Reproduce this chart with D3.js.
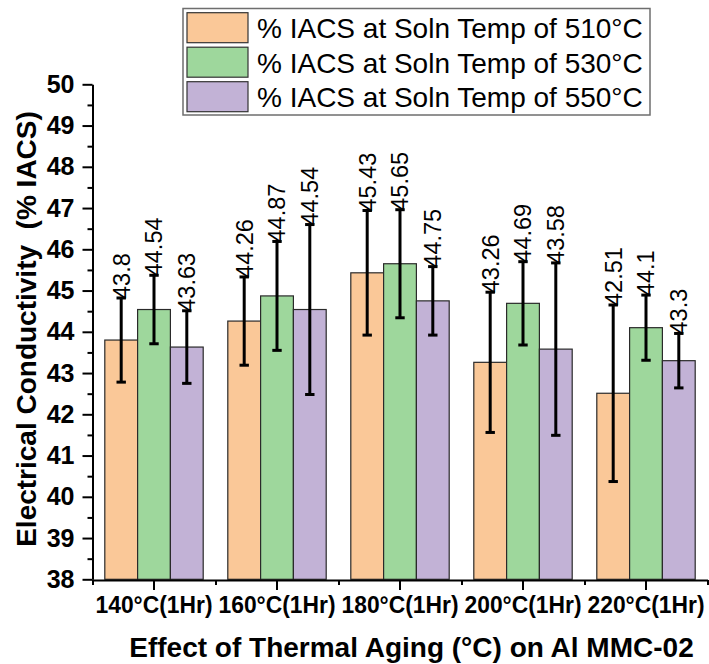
<!DOCTYPE html>
<html>
<head>
<meta charset="utf-8">
<script src="https://cdn.jsdelivr.net/npm/d3@7"></script>
<style>
  html, body { margin: 0; padding: 0; background: #fff; }
  svg { display: block; font-family: "Liberation Sans", Arial, sans-serif; }
</style>
</head>
<body>
<svg id="chart" width="709" height="664"></svg>
<script>
// Aging treatments (x categories)
const categories = ["140°C(1Hr)", "160°C(1Hr)", "180°C(1Hr)", "200°C(1Hr)", "220°C(1Hr)"];
// Solution treatment temperatures (series)
const seriesNames = [
  "% IACS at Soln Temp of 510°C",
  "% IACS at Soln Temp of 530°C",
  "% IACS at Soln Temp of 550°C"
];
// Mean conductivity (% IACS) per series
const values510 = [43.8, 44.26, 45.43, 43.26, 42.51];
const values530 = [44.54, 44.87, 45.65, 44.69, 44.1];
const values550 = [43.63, 44.54, 44.75, 43.58, 43.3];
// Standard deviation per series
const errors510 = [1.02, 1.07, 1.51, 1.7, 2.14];
const errors530 = [0.83, 1.32, 1.31, 1.01, 0.79];
const errors550 = [0.88, 2.06, 0.83, 2.09, 0.66];
// Y axis ticks
const yTicks = [38, 39, 40, 41, 42, 43, 44, 45, 46, 47, 48, 49, 50];
const colors = ["#FAC898", "#9ED79C", "#C2B2D6"];

const seriesValues = [values510, values530, values550];
const seriesErrors = [errors510, errors530, errors550];

const svg = d3.select("#chart");
const FONT = "'Liberation Sans', Arial, sans-serif";

const plotLeft = 92.5, plotRight = 707.5, plotTop = 84.3, plotBottom = 579.3;

const y = d3.scaleLinear().domain([38, 50]).range([plotBottom, plotTop]);
const xGroup = d3.scaleBand().domain(categories).range([plotLeft, plotRight])
  .paddingInner(0.2).paddingOuter(0.1);
const xSub = d3.scaleBand().domain(d3.range(seriesNames.length))
  .range([0, xGroup.bandwidth()]);

// One record per bar
const rows = [];
categories.forEach((c, i) => {
  seriesNames.forEach((s, j) => {
    rows.push({ c, j, v: seriesValues[j][i], e: seriesErrors[j][i] });
  });
});

// Bars
const g = svg.append("g");
g.selectAll("rect.bar").data(rows).join("rect")
  .attr("class", "bar")
  .attr("x", d => xGroup(d.c) + xSub(d.j))
  .attr("y", d => y(d.v))
  .attr("width", xSub.bandwidth())
  .attr("height", d => y(38) - y(d.v))
  .attr("fill", d => colors[d.j])
  .attr("stroke", "#2a2a2a")
  .attr("stroke-width", 1.2);

// Error bars
const cx = d => xGroup(d.c) + xSub(d.j) + xSub.bandwidth() / 2;
const eb = g.selectAll("g.err").data(rows).join("g").attr("class", "err");
eb.append("line")
  .attr("x1", cx).attr("x2", cx)
  .attr("y1", d => y(d.v + d.e)).attr("y2", d => y(d.v - d.e))
  .attr("stroke", "#000").attr("stroke-width", 3);
[1, -1].forEach(sign => {
  eb.append("line")
    .attr("x1", d => cx(d) - 4.7).attr("x2", d => cx(d) + 4.7)
    .attr("y1", d => y(d.v + sign * d.e)).attr("y2", d => y(d.v + sign * d.e))
    .attr("stroke", "#000").attr("stroke-width", 3);
});

// Value labels, rotated, starting at the top of each error bar
g.selectAll("text.val").data(rows).join("text")
  .attr("class", "val")
  .attr("transform", d => `translate(${cx(d) + 8.4},${y(d.v + d.e) + 1}) rotate(-90)`)
  .attr("font-size", 23.5)
  .attr("fill", "#000")
  .text(d => d.v);

// Y axis: major and minor ticks
const yAxis = svg.append("g").attr("transform", `translate(${plotLeft},0)`)
  .call(d3.axisLeft(y).tickValues(yTicks).tickSize(10).tickSizeOuter(0).tickPadding(8));
svg.append("g").attr("transform", `translate(${plotLeft},0)`)
  .call(d3.axisLeft(y).tickValues(d3.range(38.5, 50, 1)).tickSize(5).tickSizeOuter(0).tickFormat(""))
  .select(".domain").remove();
yAxis.selectAll("text").attr("font-size", 25).attr("font-weight", "bold").attr("fill", "#000")
  .attr("font-family", FONT);

// X axis: ticks at group centres, minor ticks at group boundaries
const xAxis = svg.append("g").attr("transform", `translate(0,${plotBottom + 0.7})`)
  .call(d3.axisBottom(xGroup).tickSize(10).tickSizeOuter(0).tickPadding(6));
xAxis.selectAll("text").attr("font-size", 24).attr("font-weight", "bold").attr("fill", "#000")
  .attr("font-family", FONT)
  .attr("textLength", 117).attr("lengthAdjust", "spacingAndGlyphs")
  .attr("dy", "0.71em");
const xEdge = d3.scaleLinear().domain([0, categories.length]).range([plotLeft, plotRight]);
svg.append("g").attr("transform", `translate(0,${plotBottom + 0.7})`)
  .call(d3.axisBottom(xEdge).tickValues(d3.range(0, categories.length + 1)).tickSize(5).tickSizeOuter(0).tickFormat(""))
  .select(".domain").remove();

svg.selectAll(".domain, .tick line").attr("stroke", "#000").attr("stroke-width", 2);

// Axis titles
svg.append("text")
  .attr("x", 411.5).attr("y", 657)
  .attr("text-anchor", "middle")
  .attr("font-size", 28).attr("font-weight", "bold")
  .text("Effect of Thermal Aging (°C) on Al MMC-02");

svg.append("text")
  .attr("transform", "translate(36,329) rotate(-90)")
  .attr("text-anchor", "middle")
  .attr("font-size", 28).attr("font-weight", "bold")
  .style("white-space", "pre")
  .text("Electrical Conductivity  (% IACS)");

// Legend
const legend = svg.append("g");
legend.append("rect")
  .attr("x", 183).attr("y", 8.5).attr("width", 467).attr("height", 106.5)
  .attr("fill", "#fff").attr("stroke", "#6e6e6e").attr("stroke-width", 1.5);
const items = legend.selectAll("g.item").data(seriesNames).join("g")
  .attr("class", "item")
  .attr("transform", (d, i) => `translate(0,${12.7 + i * 34.5})`);
items.append("rect")
  .attr("x", 187).attr("y", 0).attr("width", 61).attr("height", 30)
  .attr("fill", (d, i) => colors[i]).attr("stroke", "#333").attr("stroke-width", 1.2);
items.append("text")
  .attr("x", 257).attr("y", 25.6)
  .attr("font-size", 28)
  .text(d => d);
</script>
</body>
</html>
